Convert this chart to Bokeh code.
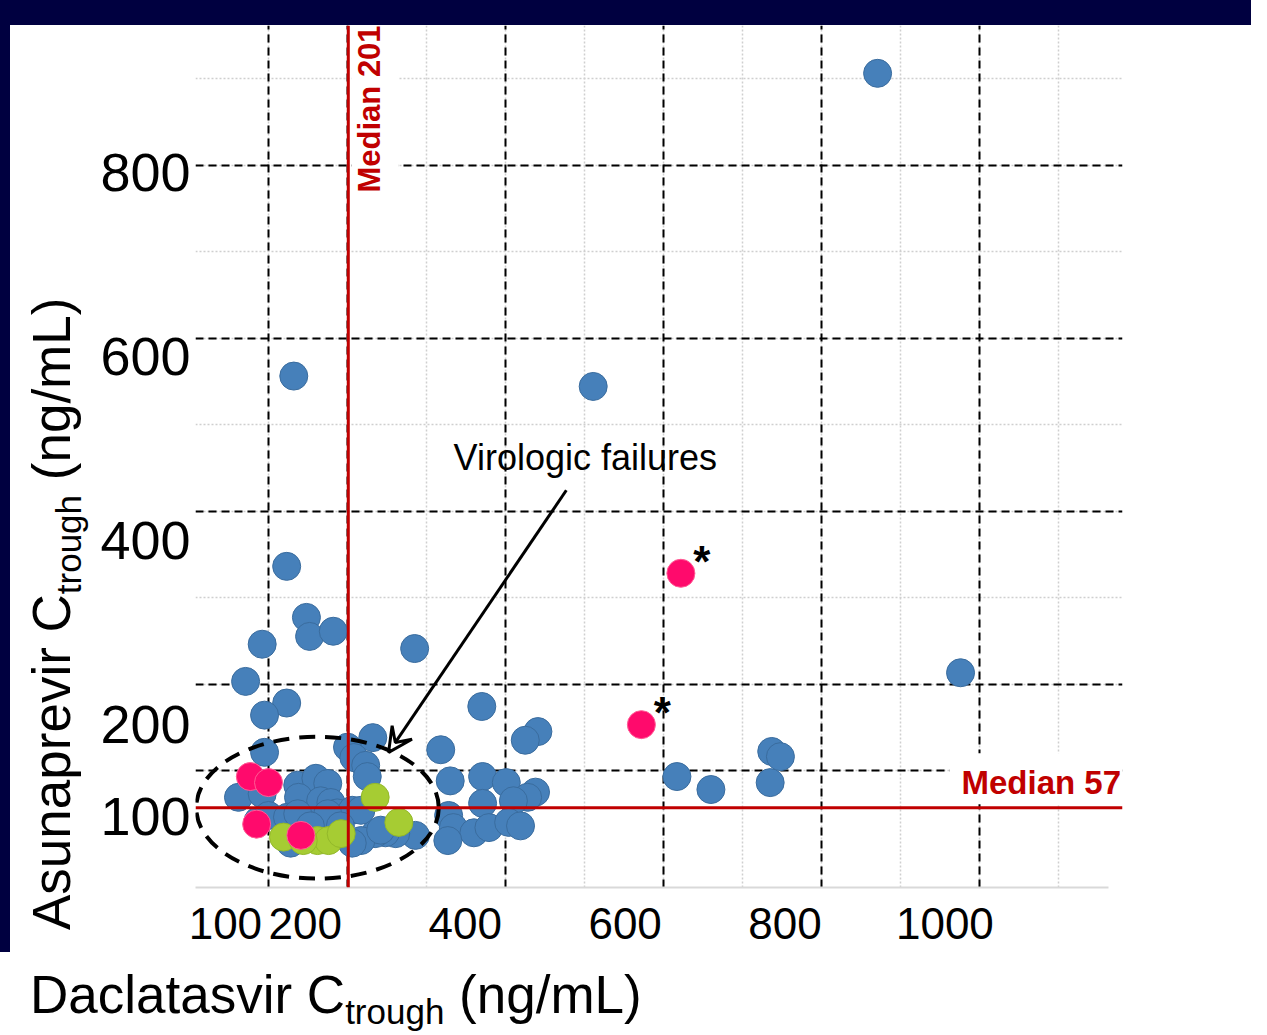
import math
from bokeh.plotting import figure
from bokeh.layouts import column, row
from bokeh.models import (Range1d, FixedTicker, Grid, Span, Label, BoxAnnotation,
                          Arrow, VeeHead, Div)
from bokeh.core.properties import value
from bokeh.embed import file_html
from bokeh.resources import INLINE

# ---------------- data (Daclatasvir / Asunaprevir C_trough, ng/mL) ----------------
blue_x = [871, 132, 511, 123, 148, 152, 182, 92, 285, 71, 123, 95, 370, 976, 441, 425,
          232, 318, 95, 737, 748, 200, 208, 223, 225, 617, 660, 735, 330, 371, 401, 438,
          428, 410, 371, 328, 334, 360, 379, 404, 419, 327, 286, 261, 248, 235, 217, 206,
          62, 92, 137, 160, 175, 138, 166, 179, 187, 206, 217, 87, 100, 124, 137, 175,
          128, 242, 191, 153]
blue_y = [906, 556, 544, 336, 277, 255, 261, 246, 241, 203, 178, 164, 174, 213, 145, 135,
          138, 124, 121, 122, 116, 127, 115, 106, 93, 93, 78, 86, 88, 93, 86, 75,
          69, 65, 62, 48, 34, 28, 34, 40, 36, 19, 25, 27, 28, 27, 19, 16,
          69, 73, 83, 91, 85, 69, 65, 63, 51, 54, 54, 42, 48, 46, 50, 50,
          16, 31, 36, 36]
green_x = [235, 265, 119, 162, 176, 192, 144]
green_y = [69, 40, 23, 19, 19, 27, 19]
pink_x = [77, 100, 85, 141, 572, 622]
pink_y = [93, 86, 38, 25, 153, 328]
pink_star = [False, False, False, False, True, True]

x_ticks = [100, 200, 400, 600, 800, 1000]
y_ticks = [100, 200, 400, 600, 800]
x_minor = [100, 200, 300, 400, 500, 600, 700, 800, 900, 1000, 1100]
y_minor = [100, 200, 300, 400, 500, 600, 700, 800, 900]
median_x = 201
median_y = 57

x_title = ("Daclatasvir C", "trough", " (ng/mL)")
y_title = ("Asunaprevir C", "trough", " (ng/mL)")

# ---------------- styling ----------------
FONT = "Liberation Sans"
RED = "#C00000"
NAVY = "#000040"

p = figure(width=1156, height=937, frame_width=927, frame_height=862,
           min_border_left=100, min_border_right=129,
           min_border_top=0, min_border_bottom=75,
           x_range=Range1d(7.59, 1181.0), y_range=Range1d(-35.26, 961.3),
           output_backend="svg", toolbar_location=None,
           background_fill_color="white", border_fill_color="white",
           outline_line_color=None)

# remove default grids
p.center = [r for r in p.center if not isinstance(r, Grid)]

p.add_layout(Grid(dimension=0, ticker=FixedTicker(ticks=x_minor),
                  grid_line_color="#cfcfcf", grid_line_dash="2 2", grid_line_width=1.5))
p.add_layout(Grid(dimension=1, ticker=FixedTicker(ticks=y_minor),
                  grid_line_color="#cfcfcf", grid_line_dash="2 2", grid_line_width=1.5))
p.add_layout(Grid(dimension=0, ticker=FixedTicker(ticks=x_ticks),
                  grid_line_color="black", grid_line_dash="8 5", grid_line_width=2))
p.add_layout(Grid(dimension=1, ticker=FixedTicker(ticks=y_ticks),
                  grid_line_color="black", grid_line_dash="8 5", grid_line_width=2))

# axes: labels sit where the slide placed them (offset from their grid lines)
x_label_pos = [round(1.012 * t - 55.8, 1) for t in x_ticks]
y_label_pos = [round(1.064 * t - 60, 1) for t in y_ticks]
p.xaxis.ticker = FixedTicker(ticks=x_label_pos)
p.xaxis.major_label_overrides = {pos: str(t) for pos, t in zip(x_label_pos, x_ticks)}
p.yaxis.ticker = FixedTicker(ticks=y_label_pos)
p.yaxis.major_label_overrides = {pos: str(t) for pos, t in zip(y_label_pos, y_ticks)}

p.xaxis.major_label_text_font = FONT
p.xaxis.major_label_text_font_size = "44px"
p.yaxis.major_label_text_font = FONT
p.yaxis.major_label_text_font_size = "54px"
for ax in (p.xaxis, p.yaxis):
    ax.major_label_text_color = "black"
    ax.major_tick_line_color = None
    ax.minor_tick_line_color = None
    ax.major_tick_out = 0
    ax.major_tick_in = 0
    ax.minor_tick_out = 0
p.xaxis.major_label_standoff = 20
p.yaxis.major_label_standoff = 5
p.xaxis.axis_line_color = "#d9d9d9"
p.xaxis.axis_line_width = 2
p.xaxis.bounds = (7.59, 1163)
p.yaxis.axis_line_color = None

# points
p.scatter(blue_x, blue_y, size=28, fill_color="#4680BA", line_color="#3A6C9E", line_width=1)
p.scatter(green_x, green_y, size=28, fill_color="#A6CC33", line_color="#93B82A", line_width=1)
p.scatter(pink_x, pink_y, size=28, fill_color="#FF0A6C", line_color="#FF5C95", line_width=1)

sx = [x for x, s in zip(pink_x, pink_star) if s]
sy = [y for y, s in zip(pink_y, pink_star) if s]
p.text(x=sx, y=sy, text=["*"] * len(sx), x_offset=21, y_offset=-12,
       text_font=value(FONT), text_font_size="44px", text_font_style="bold",
       text_align="center", text_baseline="alphabetic", text_color="black")

# dashed ellipse around the virologic failures
p.ellipse(x=162, y=57, width=307, height=164, fill_color=None,
          line_color="black", line_width=4, line_dash="16 10")

p.add_layout(Arrow(end=VeeHead(size=24, line_width=3, line_color="black", fill_color=None),
                   x_start=477, y_start=424, x_end=252, y_end=121,
                   line_width=3, line_color="black"))
p.add_layout(Label(x=501, y=437.6, text="Virologic failures", text_align="center",
                   text_font=FONT, text_font_size="36px", text_color="black"))

# median labels with white boxes
p.add_layout(BoxAnnotation(left=205, right=265, bottom=765, top=966,
                           fill_color="white", fill_alpha=1, line_color=None))
p.add_layout(Label(x=250.6, y=768.2, text="Median %d" % median_x, angle=math.pi / 2,
                   text_font=FONT, text_font_size="31px", text_font_style="bold",
                   text_color=RED))
p.add_layout(BoxAnnotation(left=962, right=1230, bottom=61, top=120,
                           fill_color="white", fill_alpha=1, line_color=None))
p.add_layout(Label(x=977.2, y=65.3, text="Median %d" % median_y,
                   text_font=FONT, text_font_size="33px", text_font_style="bold",
                   text_color=RED))
p.add_layout(Span(location=median_x, dimension="height", line_color=RED, line_width=3))
p.add_layout(Span(location=median_y, dimension="width", line_color=RED, line_width=3))

# ---------------- slide frame and axis titles (with subscripts) ----------------
TXT = "white-space:nowrap;font-family:'Liberation Sans';font-size:53px;line-height:53px;color:#000;"
SUB = "font-size:35px;position:relative;top:11px;"

top_bar = Div(text='<div style="width:1251px;height:25px;background:%s;"></div>' % NAVY,
              width=1251, height=25, margin=0)

y_html = ('<div style="position:relative;width:95px;height:937px;">'
          '<div style="position:absolute;left:0;top:0;width:10px;height:927px;background:%s;"></div>'
          '<div style="position:absolute;left:0;top:0;transform-origin:0 0;'
          'transform:translate(25px,905px) rotate(-90deg);%s">%s<span style="%s">%s</span>%s</div>'
          '</div>') % (NAVY, TXT, y_title[0], SUB, y_title[1], y_title[2])
y_div = Div(text=y_html, width=95, height=937, margin=0)

x_html = ('<div style="position:relative;width:1251px;height:57px;">'
          '<div style="position:absolute;left:30px;top:6px;%s">%s<span style="%s">%s</span>%s</div>'
          '</div>') % (TXT, x_title[0], SUB, x_title[1], x_title[2])
x_div = Div(text=x_html, width=1251, height=57, margin=0)

layout = column(top_bar, row(y_div, p, spacing=0), x_div, spacing=0)

open("out.html", "w").write(file_html(layout, INLINE))
